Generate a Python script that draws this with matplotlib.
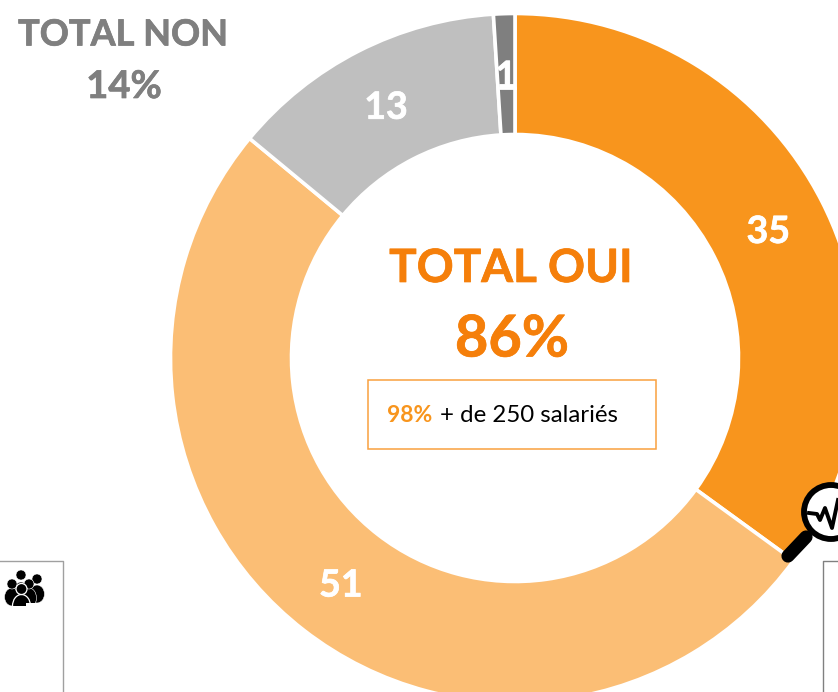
import matplotlib
matplotlib.use("Agg")
import matplotlib.pyplot as plt
import matplotlib.patheffects as pe
from matplotlib.patches import Circle, Ellipse, Rectangle

W, H = 838, 692

# donut data, clockwise from the top
values = [35, 51, 13, 1]
colors = ["#F8951D", "#FBBE75", "#BFBFBF", "#7F7F7F"]

total_yes_title = "TOTAL OUI"
total_yes_value = "86%"
total_no_title = "TOTAL NON"
total_no_value = "14%"
box_value = "98%"
box_text = "+ de 250 salariés"

ORANGE = "#F57F0A"
GREY = "#7F7F7F"

plt.rcParams["font.family"] = ["Lato", "DejaVu Sans"]


def py(y):
    # y measured from the top of the picture
    return H - y


def bold_text(x, y, s, color, size):
    # Lato bold is a bit thin next to the original, so thicken it slightly
    t = ax.text(x, py(y), s, color=color, fontsize=size, fontweight="bold", ha="center", va="center", zorder=4)
    t.set_path_effects([pe.withStroke(linewidth=0.5, foreground=color)])
    return t


def person(x, head_y, head_r, body_y, body_w, body_h, z, outline=0.4):
    # rounded body, cut flat at the bottom by a white strip added afterwards
    ax.add_patch(Ellipse((x, py(body_y)), body_w, body_h, fc="black", ec="white", lw=outline, zorder=z))
    ax.add_patch(Circle((x, py(head_y)), head_r, fc="black", ec="white", lw=outline, zorder=z))


fig = plt.figure(figsize=(W / 100, H / 100), dpi=100)
ax = fig.add_axes([0, 0, 1, 1])

# -------------------------------
# Donut
# -------------------------------
wedges, _, autotexts = ax.pie(
    values,
    colors=colors,
    center=(515, py(358)),
    radius=344.5,
    startangle=90,
    counterclock=False,
    autopct=lambda p: f"{p:.0f}",
    pctdistance=0.825,
    wedgeprops={"width": 121, "edgecolor": "white", "linewidth": 2.6},
    frame=True,
)
for t in autotexts:
    t.set_color("white")
    t.set_fontsize(27)
    t.set_fontweight("bold")
    t.set_y(t.get_position()[1] - 3)
    t.set_path_effects([pe.withStroke(linewidth=0.5, foreground="white")])

ax.set_xlim(0, W)
ax.set_ylim(0, H)
ax.set_aspect("equal")
ax.axis("off")

# white notch under the "1"
ax.plot([499, 515], [py(88), py(88)], color="white", lw=2, zorder=3)

# -------------------------------
# Texts
# -------------------------------
bold_text(511, 269, total_yes_title, ORANGE, 33)
bold_text(512, 340, total_yes_value, ORANGE, 41.5)
bold_text(123, 35, total_no_title, GREY, 26)
bold_text(124, 87, total_no_value, GREY, 27.5)

ax.add_patch(Rectangle((368, py(449)), 288, 69, fill=False, ec="#F9A03F", lw=1.1, zorder=4))
ax.text(387, py(416), box_value, color="#F8951D", fontsize=16.5, fontweight="bold", ha="left", va="center")
ax.text(440, py(416), box_text, color="black", fontsize=17.3, ha="left", va="center")

# -------------------------------
# Cropped boxes at the bottom
# -------------------------------
ax.plot([0, 63, 63], [py(561), py(561), py(692)], color="#A0A0A0", lw=1, zorder=4)
ax.plot([838, 823, 823], [py(561), py(561), py(692)], color="#808080", lw=1, zorder=4)

# -------------------------------
# People icon
# -------------------------------
person(21, 575, 5, 590, 14, 16, 5)
person(37, 579, 5, 594, 15, 18, 5)
person(12, 584, 5, 597, 15, 18, 5)
person(29, 584, 5, 598, 15, 20, 6)
person(21.5, 589, 5.5, 606, 18, 23, 7, outline=0.9)
# flat bottom of the icon
ax.add_patch(Rectangle((2, py(620)), 48, 14, fc="white", ec="none", zorder=8))
ax.add_patch(Rectangle((26, py(606)), 24, 3, fc="white", ec="none", zorder=8))

# -------------------------------
# Magnifier icon
# -------------------------------
ax.plot([788, 806], [py(556), py(537)], color="black", lw=9.5, solid_capstyle="round", zorder=5)
ax.add_patch(Circle((831, py(512)), 27, fc="white", ec="black", lw=4.2, zorder=6))
pulse_x = [809, 817, 820, 825, 832, 838]
pulse_y = [513, 514, 520, 508, 528, 500]
ax.plot(pulse_x, [py(y) for y in pulse_y], color="black", lw=2.8, zorder=7)

fig.savefig("out.png", dpi=100)
